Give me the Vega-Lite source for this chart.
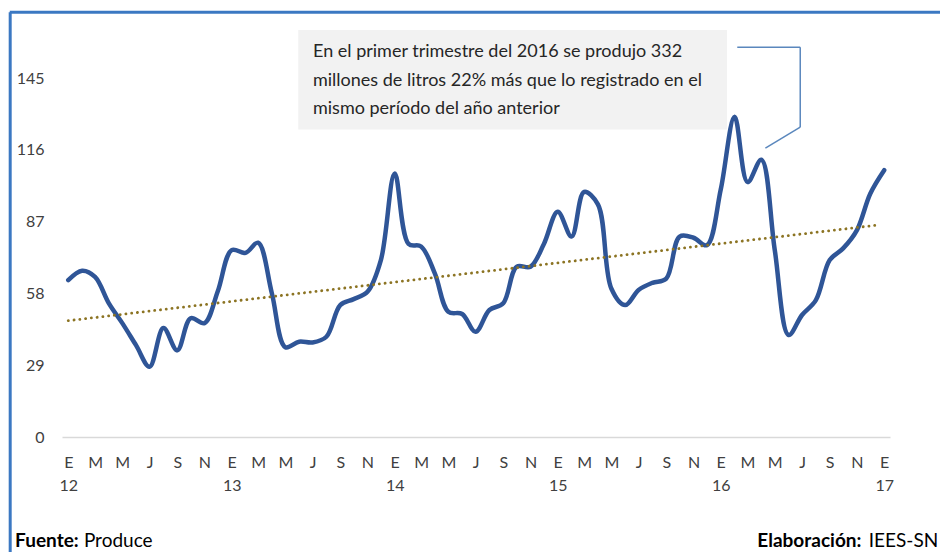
{
  "$schema": "https://vega.github.io/schema/vega-lite/v6.json",
  "width": 828,
  "height": 396,
  "autosize": {"type": "none"},
  "padding": {"left": 62, "top": 41, "right": 50, "bottom": 115},
  "background": "white",
  "config": {
    "view": {"stroke": null},
    "font": "Lato",
    "axisX": {
      "domainColor": "#D9D9D9", "domainWidth": 1.5,
      "ticks": false, "grid": false,
      "labelFont": "Lato", "labelFontSize": 16, "labelColor": "#404040",
      "labelPadding": 17, "labelBaseline": "top", "labelLineHeight": 23,
      "labelOverlap": false, "labelFlush": false
    },
    "axisY": {
      "domain": false, "ticks": false, "grid": false,
      "labelFont": "Lato", "labelFontSize": 16, "labelColor": "#404040", "labelPadding": 18
    }
  },
  "datasets": {
    "produccion": [
      {"fecha": "2012-01-01", "valor": 63.4}, {"fecha": "2012-02-01", "valor": 67.2}, {"fecha": "2012-03-01", "valor": 64.7}, {"fecha": "2012-04-01", "valor": 54}, {"fecha": "2012-05-01", "valor": 46}, {"fecha": "2012-06-01", "valor": 37}, {"fecha": "2012-07-01", "valor": 28.4}, {"fecha": "2012-08-01", "valor": 44}, {"fecha": "2012-09-01", "valor": 35}, {"fecha": "2012-10-01", "valor": 48}, {"fecha": "2012-11-01", "valor": 46}, {"fecha": "2012-12-01", "valor": 59},
      {"fecha": "2013-01-01", "valor": 75.5}, {"fecha": "2013-02-01", "valor": 74.4}, {"fecha": "2013-03-01", "valor": 78.5}, {"fecha": "2013-04-01", "valor": 58}, {"fecha": "2013-05-01", "valor": 36.3}, {"fecha": "2013-06-01", "valor": 38.5}, {"fecha": "2013-07-01", "valor": 38.2}, {"fecha": "2013-08-01", "valor": 40.5}, {"fecha": "2013-09-01", "valor": 53.3}, {"fecha": "2013-10-01", "valor": 55.7}, {"fecha": "2013-11-01", "valor": 58.7}, {"fecha": "2013-12-01", "valor": 71.5},
      {"fecha": "2014-01-01", "valor": 106.5}, {"fecha": "2014-02-01", "valor": 78}, {"fecha": "2014-03-01", "valor": 77}, {"fecha": "2014-04-01", "valor": 66}, {"fecha": "2014-05-01", "valor": 50.6}, {"fecha": "2014-06-01", "valor": 49.7}, {"fecha": "2014-07-01", "valor": 42.5}, {"fecha": "2014-08-01", "valor": 51.3}, {"fecha": "2014-09-01", "valor": 54}, {"fecha": "2014-10-01", "valor": 68.8}, {"fecha": "2014-11-01", "valor": 68.8}, {"fecha": "2014-12-01", "valor": 78},
      {"fecha": "2015-01-01", "valor": 91}, {"fecha": "2015-02-01", "valor": 81}, {"fecha": "2015-03-01", "valor": 99}, {"fecha": "2015-04-01", "valor": 94}, {"fecha": "2015-05-01", "valor": 60}, {"fecha": "2015-06-01", "valor": 53.3}, {"fecha": "2015-07-01", "valor": 59.4}, {"fecha": "2015-08-01", "valor": 62.3}, {"fecha": "2015-09-01", "valor": 64}, {"fecha": "2015-10-01", "valor": 81}, {"fecha": "2015-11-01", "valor": 80.5}, {"fecha": "2015-12-01", "valor": 77.5},
      {"fecha": "2016-01-01", "valor": 100}, {"fecha": "2016-02-01", "valor": 129.4}, {"fecha": "2016-03-01", "valor": 103}, {"fecha": "2016-04-01", "valor": 112}, {"fecha": "2016-05-01", "valor": 75.5}, {"fecha": "2016-06-01", "valor": 41.2}, {"fecha": "2016-07-01", "valor": 49.3}, {"fecha": "2016-08-01", "valor": 55.3}, {"fecha": "2016-09-01", "valor": 71.5}, {"fecha": "2016-10-01", "valor": 76.2}, {"fecha": "2016-11-01", "valor": 83.6}, {"fecha": "2016-12-01", "valor": 98.4},
      {"fecha": "2017-01-01", "valor": 107.8}
    ],
    "tendencia": [
      {"fecha": "2012-01-01", "valor": 47},
      {"fecha": "2016-12-20", "valor": 85.7}
    ]
  },
  "layer": [
    {
      "data": {"name": "produccion"},
      "mark": {"type": "line", "interpolate": "catmull-rom", "color": "#2F5597", "strokeWidth": 4.5, "strokeCap": "round", "strokeJoin": "round"},
      "encoding": {
        "x": {
          "field": "fecha", "type": "temporal", "title": null,
          "scale": {"type": "utc", "domain": [{"year": 2011, "month": 12, "date": 18, "utc": true}, {"year": 2017, "month": 1, "date": 14, "utc": true}]},
          "axis": {
            "title": null,
            "tickCount": {"interval": "month", "step": 2},
            "labelExpr": "utcmonth(datum.value) == 0 ? ['E', substring(toString(utcyear(datum.value)), 2)] : ['E','F','M','A','M','J','J','A','S','O','N','D'][utcmonth(datum.value)]"
          }
        },
        "y": {
          "field": "valor", "type": "quantitative", "title": null,
          "scale": {"domain": [0, 160], "nice": false},
          "axis": {"title": null, "values": [0, 29, 58, 87, 116, 145]}
        }
      }
    },
    {
      "data": {"name": "tendencia"},
      "mark": {"type": "line", "color": "#8C7423", "strokeWidth": 2.8, "strokeDash": [0.1, 5.7], "strokeCap": "round"},
      "encoding": {
        "x": {"field": "fecha", "type": "temporal", "title": null},
        "y": {"field": "valor", "type": "quantitative", "title": null}
      }
    },
    {
      "data": {"values": [{}]},
      "mark": {"type": "rule", "color": "#3B78C2", "strokeWidth": 3},
      "encoding": {
        "x": {"datum": {"year": 2011, "month": 8, "date": 24, "utc": true}, "type": "temporal", "title": null},
        "y": {"datum": -50, "type": "quantitative", "title": null},
        "y2": {"datum": 171.6}
      }
    },
    {
      "data": {"values": [{}]},
      "mark": {"type": "rule", "color": "#3B78C2", "strokeWidth": 3},
      "encoding": {
        "x": {"datum": {"year": 2011, "month": 8, "date": 23, "utc": true}, "type": "temporal", "title": null},
        "x2": {"datum": {"year": 2017, "month": 12, "date": 31, "utc": true}},
        "y": {"datum": 171.6, "type": "quantitative", "title": null}
      }
    },
    {
      "data": {"values": [{}]},
      "mark": {"type": "rect", "color": "#F2F2F2"},
      "encoding": {
        "x": {"datum": {"year": 2013, "month": 5, "date": 30, "utc": true}, "type": "temporal", "title": null},
        "x2": {"datum": {"year": 2016, "month": 1, "date": 15, "utc": true}},
        "y": {"datum": 164.4, "type": "quantitative", "title": null},
        "y2": {"datum": 124.2}
      }
    },
    {
      "data": {"values": [{}]},
      "mark": {"type": "text", "align": "left", "baseline": "middle", "fontSize": 18, "lineHeight": 28.5, "color": "#262626", "font": "Lato"},
      "encoding": {
        "x": {"datum": {"year": 2013, "month": 7, "date": 2, "utc": true}, "type": "temporal", "title": null},
        "y": {"datum": 155.5, "type": "quantitative", "title": null},
        "text": {"value": ["En el primer trimestre del 2016 se produjo 332", "millones de litros 22% más que lo registrado en el", "mismo período del año anterior"]}
      }
    },
    {
      "data": {"values": [{}]},
      "mark": {"type": "rule", "color": "#5A87BD", "strokeWidth": 1.5},
      "encoding": {
        "x": {"datum": {"year": 2016, "month": 2, "date": 7, "utc": true}, "type": "temporal", "title": null},
        "x2": {"datum": {"year": 2016, "month": 6, "date": 27, "utc": true}},
        "y": {"datum": 157.5, "type": "quantitative", "title": null}
      }
    },
    {
      "data": {"values": [{}]},
      "mark": {"type": "rule", "color": "#5A87BD", "strokeWidth": 1.5},
      "encoding": {
        "x": {"datum": {"year": 2016, "month": 6, "date": 27, "utc": true}, "type": "temporal", "title": null},
        "y": {"datum": 157.5, "type": "quantitative", "title": null},
        "y2": {"datum": 125.2}
      }
    },
    {
      "data": {"values": [{}]},
      "mark": {"type": "rule", "color": "#5A87BD", "strokeWidth": 1.5},
      "encoding": {
        "x": {"datum": {"year": 2016, "month": 6, "date": 27, "utc": true}, "type": "temporal", "title": null},
        "x2": {"datum": {"year": 2016, "month": 4, "date": 10, "utc": true}},
        "y": {"datum": 125.2, "type": "quantitative", "title": null},
        "y2": {"datum": 116.7}
      }
    },
    {
      "data": {"values": [{}]},
      "mark": {"type": "text", "align": "left", "baseline": "middle", "fontSize": 19, "fontWeight": "bold", "color": "#000000", "font": "Lato"},
      "encoding": {
        "x": {"datum": {"year": 2011, "month": 9, "date": 4, "utc": true}, "type": "temporal", "title": null},
        "y": {"datum": -42, "type": "quantitative", "title": null},
        "text": {"value": "Fuente:"}
      }
    },
    {
      "data": {"values": [{}]},
      "mark": {"type": "text", "align": "left", "baseline": "middle", "fontSize": 19, "color": "#000000", "font": "Lato"},
      "encoding": {
        "x": {"datum": {"year": 2012, "month": 2, "date": 5, "utc": true}, "type": "temporal", "title": null},
        "y": {"datum": -42, "type": "quantitative", "title": null},
        "text": {"value": "Produce"}
      }
    },
    {
      "data": {"values": [{}]},
      "mark": {"type": "text", "align": "right", "baseline": "middle", "fontSize": 19, "fontWeight": "bold", "color": "#000000", "font": "Lato"},
      "encoding": {
        "x": {"datum": {"year": 2016, "month": 11, "date": 11, "utc": true}, "type": "temporal", "title": null},
        "y": {"datum": -42, "type": "quantitative", "title": null},
        "text": {"value": "Elaboración:"}
      }
    },
    {
      "data": {"values": [{}]},
      "mark": {"type": "text", "align": "right", "baseline": "middle", "fontSize": 19, "color": "#000000", "font": "Lato"},
      "encoding": {
        "x": {"datum": {"year": 2017, "month": 5, "date": 2, "utc": true}, "type": "temporal", "title": null},
        "y": {"datum": -42, "type": "quantitative", "title": null},
        "text": {"value": "IEES-SN"}
      }
    }
  ]
}
